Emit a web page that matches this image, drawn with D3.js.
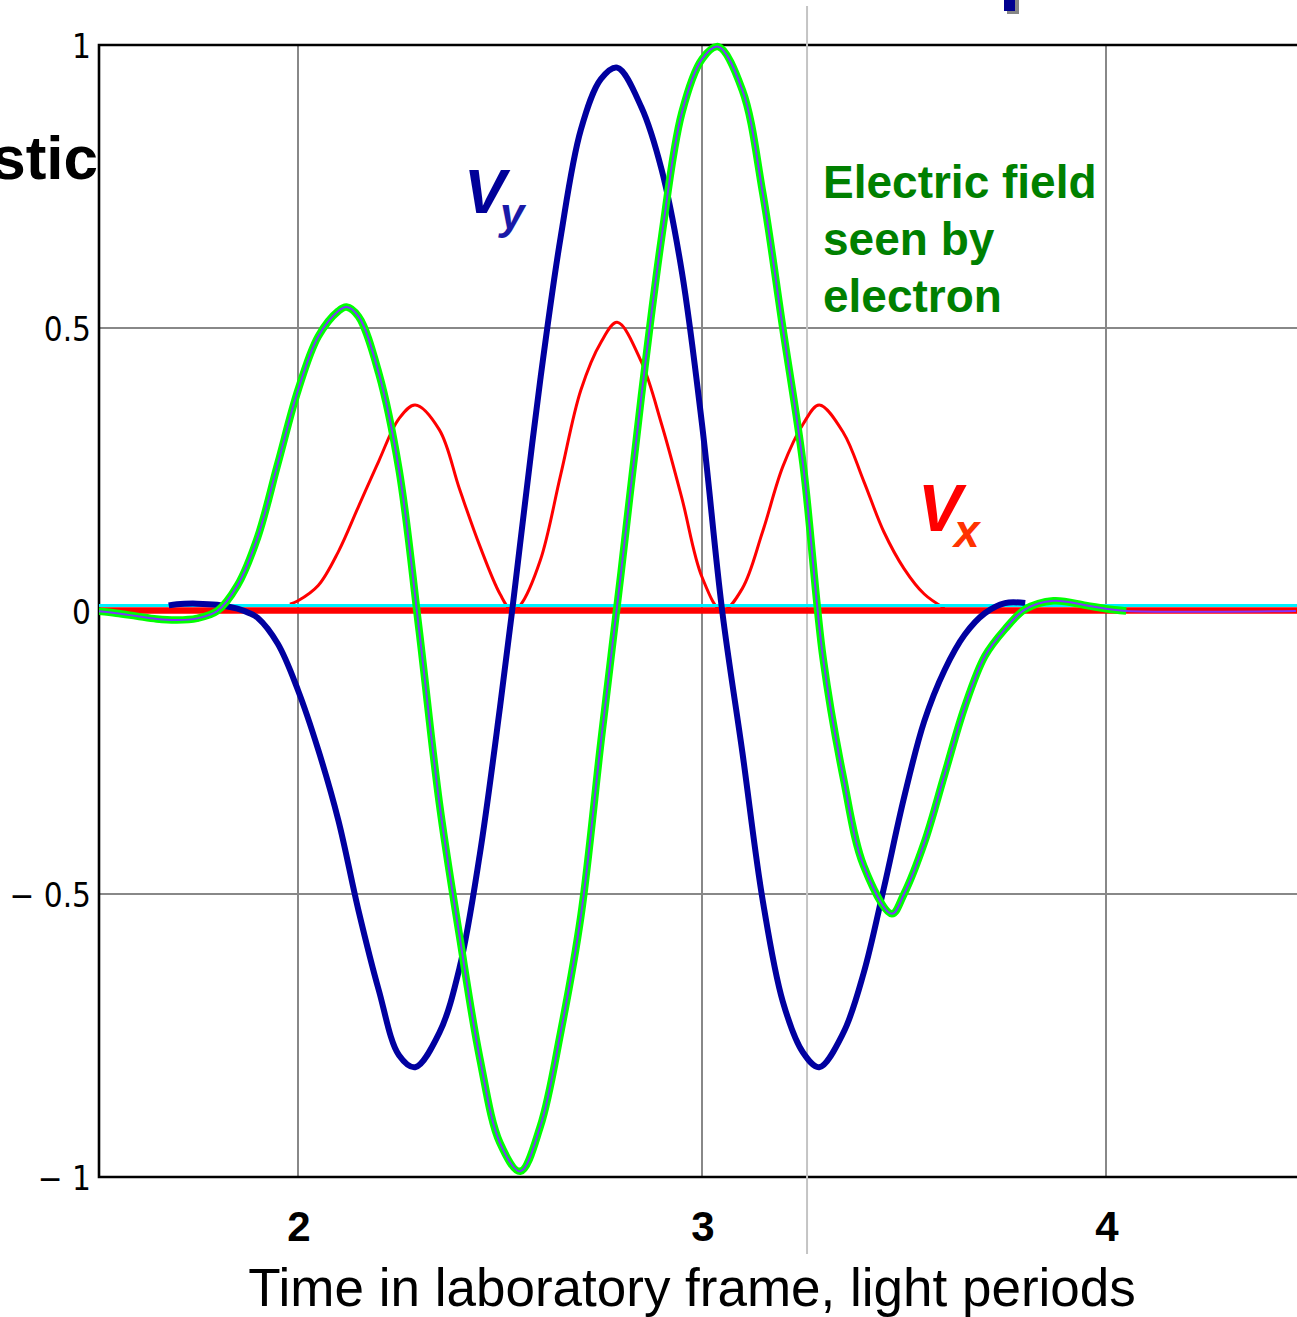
<!DOCTYPE html>
<html>
<head>
<meta charset="utf-8">
<script src="https://cdn.jsdelivr.net/npm/d3@7"></script>
<style>
  html, body { margin: 0; padding: 0; background: #fff; }
  svg { display: block; }
</style>
</head>
<body>
<svg id="chart" width="1297" height="1317"></svg>
<script>
// ---------- data ----------
const xTicks = [2, 3, 4];
const yTicks = [1, 0.5, 0, -0.5, -1];
const yTickLabels = ["1", "0.5", "0", "\u2212 0.5", "\u2212 1"];
const xTitle = "Time in laboratory frame, light periods";

// Vy (blue)
const vyT = [1.68,1.70,1.75,1.80,1.85,1.88,1.90,1.95,2.00,2.05,2.10,2.15,2.20,2.25,2.29,2.35,2.40,2.45,2.50,2.53,2.55,2.60,2.65,2.70,2.75,2.79,2.85,2.90,2.95,3.00,3.05,3.10,3.15,3.20,3.25,3.29,3.35,3.40,3.45,3.50,3.55,3.60,3.65,3.70,3.75,3.80];
const vyV = [0.010,0.012,0.013,0.011,0.004,-0.004,-0.012,-0.058,-0.14,-0.245,-0.37,-0.53,-0.67,-0.785,-0.806,-0.745,-0.63,-0.43,-0.17,0.0,0.12,0.41,0.66,0.85,0.94,0.96,0.89,0.78,0.60,0.33,0.0,-0.25,-0.51,-0.69,-0.78,-0.806,-0.745,-0.64,-0.49,-0.33,-0.195,-0.105,-0.042,-0.004,0.014,0.014];

// Vx (red)
const vxT = [1.98,2.00,2.05,2.10,2.15,2.20,2.25,2.29,2.35,2.40,2.45,2.50,2.53,2.55,2.60,2.65,2.70,2.75,2.79,2.85,2.90,2.95,3.00,3.05,3.10,3.15,3.20,3.25,3.29,3.35,3.40,3.45,3.50,3.55,3.60];
const vxV = [0.012,0.018,0.045,0.105,0.185,0.265,0.34,0.364,0.32,0.215,0.115,0.03,0.0,0.01,0.09,0.24,0.39,0.475,0.51,0.44,0.33,0.20,0.06,0.0,0.04,0.14,0.255,0.33,0.364,0.315,0.23,0.14,0.075,0.03,0.005];

// Electric field seen by electron (green with purple core)
const eT = [1.50,1.55,1.60,1.65,1.70,1.75,1.80,1.85,1.90,1.95,2.00,2.05,2.10,2.12,2.15,2.20,2.25,2.30,2.35,2.40,2.45,2.50,2.55,2.60,2.65,2.70,2.75,2.80,2.85,2.90,2.95,3.00,3.04,3.10,3.15,3.20,3.25,3.30,3.35,3.40,3.47,3.50,3.55,3.60,3.65,3.70,3.75,3.80,3.87,3.95,4.00,4.05,4.47];
const eV = [0.0,-0.004,-0.009,-0.014,-0.016,-0.013,0.0,0.045,0.13,0.26,0.39,0.485,0.53,0.537,0.52,0.42,0.25,-0.035,-0.34,-0.575,-0.79,-0.94,-0.99,-0.91,-0.745,-0.54,-0.23,0.07,0.38,0.66,0.88,0.975,0.997,0.92,0.74,0.50,0.26,-0.085,-0.295,-0.45,-0.535,-0.50,-0.41,-0.29,-0.17,-0.08,-0.032,0.003,0.018,0.01,0.004,0.0,0.0];
const greenEnd = 4.05;

// zero-level traces
const zeroT = [1.50, 4.48];
const zeroV = [0, 0];

// marker line (light grey vertical)
const markerT = 3.26;

// ---------- layout ----------
const svg = d3.select("#chart");
const plotLeft = 99, plotRight = 1297, plotTop = 45, plotBottom = 1177;
const x = d3.scaleLinear().domain([2, 4]).range([298, 1106]);
const y = d3.scaleLinear().domain([-1, 1]).range([plotBottom, plotTop]);

svg.append("rect").attr("width", 1297).attr("height", 1317).attr("fill", "#fff");

svg.append("clipPath").attr("id", "clip")
  .append("rect").attr("x", plotLeft).attr("y", 0)
  .attr("width", plotRight - plotLeft).attr("height", 1317);

// grid
const grid = svg.append("g");
grid.selectAll("line.gx").data(xTicks).join("line")
  .attr("x1", d => x(d)).attr("x2", d => x(d))
  .attr("y1", plotTop).attr("y2", plotBottom)
  .attr("stroke", "#888").attr("stroke-width", 2);
grid.selectAll("line.gy").data(yTicks.filter(v => Math.abs(v) === 0.5)).join("line")
  .attr("x1", plotLeft).attr("x2", plotRight)
  .attr("y1", d => y(d)).attr("y2", d => y(d))
  .attr("stroke", "#888").attr("stroke-width", 2);

// frame
svg.append("path")
  .attr("d", `M${plotRight},${plotTop}H${plotLeft}V${plotBottom}H${plotRight}`)
  .attr("fill", "none").attr("stroke", "#000").attr("stroke-width", 2.6);

// light grey marker line
svg.append("line")
  .attr("x1", x(markerT)).attr("x2", x(markerT))
  .attr("y1", 6).attr("y2", 1254)
  .attr("stroke", "#c4c4c4").attr("stroke-width", 2);

const mk = (T, V) => d3.zip(T, V).map(([t, v]) => ({t, v}));
const line = d3.line().x(d => x(d.t)).y(d => y(d.v)).curve(d3.curveCatmullRom.alpha(0.5));

const plot = svg.append("g").attr("clip-path", "url(#clip)");

// Vx red thin
plot.append("path").datum(mk(vxT, vxV))
  .attr("d", line).attr("fill", "none")
  .attr("stroke", "#ff0000").attr("stroke-width", 3).attr("stroke-linejoin", "round");

// zero traces: thick red and cyan
const zeroData = mk(zeroT, zeroV);
plot.append("path").datum(zeroData)
  .attr("d", line).attr("fill", "none")
  .attr("stroke", "#ff0000").attr("stroke-width", 6.5)
  .attr("transform", "translate(0,-0.5)");
plot.append("path").datum(zeroData)
  .attr("d", line).attr("fill", "none")
  .attr("stroke", "#00f0ff").attr("stroke-width", 3)
  .attr("transform", "translate(0,-5.5)");

// Vy blue thick
plot.append("path").datum(mk(vyT, vyV))
  .attr("d", line).attr("fill", "none")
  .attr("stroke", "#0000a0").attr("stroke-width", 6).attr("stroke-linejoin", "round");

// E field: green wide + purple core
const eData = mk(eT, eV);
plot.append("path").datum(eData.filter(d => d.t <= greenEnd))
  .attr("d", line).attr("fill", "none")
  .attr("stroke", "#00ff00").attr("stroke-width", 7.5).attr("stroke-linejoin", "round");
plot.append("path").datum(eData)
  .attr("d", line).attr("fill", "none")
  .attr("stroke", "#8033ff").attr("stroke-width", 2).attr("stroke-linejoin", "round");

// y tick labels
svg.append("g").selectAll("text").data(yTicks).join("text")
  .attr("x", 91).attr("y", d => y(d) + 3)
  .attr("text-anchor", "end").attr("dominant-baseline", "middle")
  .attr("font-family", "'DejaVu Sans Condensed', 'DejaVu Sans', sans-serif")
  .attr("font-size", 33).attr("fill", "#000")
  .text((d, i) => yTickLabels[i]);

// x tick labels
svg.append("g").selectAll("text").data(xTicks).join("text")
  .attr("x", d => x(d) + 1).attr("y", 1241)
  .attr("text-anchor", "middle")
  .attr("font-family", "'Liberation Sans', Arial, sans-serif")
  .attr("font-weight", "bold").attr("font-size", 42).attr("fill", "#000")
  .text(d => d);

// x title
svg.append("text")
  .attr("x", 692).attr("y", 1306).attr("text-anchor", "middle")
  .attr("font-family", "'Liberation Sans', Arial, sans-serif")
  .attr("font-size", 53).attr("fill", "#000")
  .text(xTitle);

// cut-off title fragment at left
svg.append("text")
  .attr("x", 98).attr("y", 179).attr("text-anchor", "end")
  .attr("font-family", "'Liberation Sans', Arial, sans-serif")
  .attr("font-weight", "bold").attr("font-size", 62).attr("fill", "#000")
  .text("stic");

// fragment at top
svg.append("rect").attr("x", 1007).attr("y", 0).attr("width", 12).attr("height", 14).attr("fill", "#222").attr("opacity", 0.55);
svg.append("rect").attr("x", 1004).attr("y", 0).attr("width", 11).attr("height", 11).attr("fill", "#000090");

// Vy label
const vyLab = svg.append("text")
  .attr("x", 464).attr("y", 213)
  .attr("font-family", "'Liberation Sans', Arial, sans-serif")
  .attr("font-weight", "bold").attr("font-style", "italic").attr("fill", "#000099");
vyLab.append("tspan").attr("font-size", 63).text("V");
vyLab.append("tspan").attr("font-size", 44).attr("dy", 16).attr("dx", -6).attr("fill", "#1a1aa8").text("y");

// Vx label
const vxLab = svg.append("text")
  .attr("x", 918).attr("y", 531)
  .attr("font-family", "'Liberation Sans', Arial, sans-serif")
  .attr("font-weight", "bold").attr("font-style", "italic").attr("fill", "#ff0000");
vxLab.append("tspan").attr("font-size", 66).text("V");
vxLab.append("tspan").attr("font-size", 46).attr("dy", 16).attr("dx", -8).attr("fill", "#ff3300").text("x");

// E-field annotation
const eLines = ["Electric field", "seen by", "electron"];
svg.append("g").selectAll("text").data(eLines).join("text")
  .attr("x", 823).attr("y", (d, i) => 198 + i * 57)
  .attr("font-family", "'Liberation Sans', Arial, sans-serif")
  .attr("font-weight", "bold").attr("font-size", 46).attr("fill", "#008000")
  .text(d => d);
</script>
</body>
</html>
